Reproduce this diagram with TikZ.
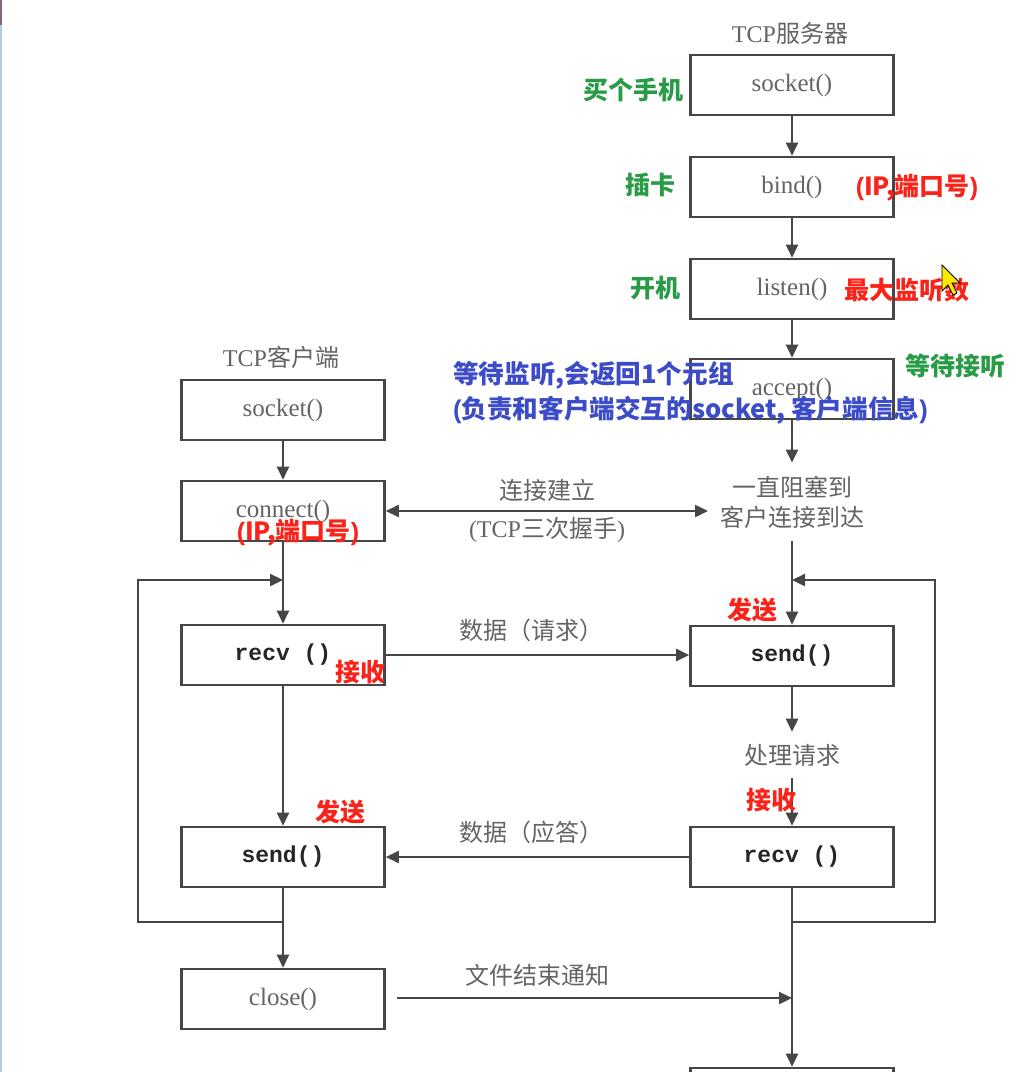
\documentclass[tikz,border=0pt]{standalone}
\usepackage{fontspec}
\setmainfont{Liberation Serif}
\newfontfamily\cjk{Noto Sans CJK SC}
\newfontfamily\cjkb{Noto Sans CJK SC}
\newfontfamily\annlat{Liberation Sans}
\newfontfamily\monob{Liberation Mono}
\newcommand{\lp}{{\annlat\bfseries (}}
\newcommand{\rp}{{\annlat\bfseries )}}
\usetikzlibrary{arrows.meta}
\definecolor{linegray}{RGB}{70,70,70}
\definecolor{txtgray}{RGB}{100,100,100}
\definecolor{annGreen}{RGB}{40,155,70}
\definecolor{annRed}{RGB}{250,35,25}
\definecolor{annBlue}{RGB}{60,75,200}
\definecolor{edgeBlue}{RGB}{175,205,235}
\definecolor{edgePurple}{RGB}{140,100,130}
\tikzset{
  box/.style={draw=linegray, line width=2.6pt, minimum width=203pt, minimum height=60pt, inner sep=0pt, text=txtgray, font=\fontsize{25}{29}\selectfont},
  mbox/.style={box, text=black!85, font=\monob\bfseries\fontsize{23}{27}\selectfont},
  lbl/.style={text=txtgray, font=\cjk\fontsize{24}{30}\selectfont, inner sep=0pt},
  arr/.style={draw=linegray, line width=2.4pt, -{Triangle[length=13pt,width=12pt]}},
  dbl/.style={draw=linegray, line width=2.4pt, {Triangle[length=13pt,width=12pt]}-{Triangle[length=13pt,width=12pt]}},
  ann/.style={font=\cjkb\bfseries\fontsize{25}{30}\selectfont, inner sep=0pt},
  green/.style={ann, text=annGreen},
  red/.style={ann, text=annRed},
  blue/.style={ann, text=annBlue, anchor=west, font=\cjkb\bfseries\fontsize{25.6}{30}\selectfont},
}
\begin{document}
\begin{tikzpicture}[x=1pt,y=-1pt]
\useasboundingbox (0,0) rectangle (1027,1072);
\clip (0,0) rectangle (1027,1072);
\fill[white] (0,0) rectangle (1027,1072);
\fill[edgePurple] (0,0) rectangle (2,25);
\fill[edgeBlue] (0,25) rectangle (2,1072);

% titles
\node[lbl] (tcps) at (790,33) {{\rmfamily TCP}服务器};
\node[lbl] (tcpc) at (281,357) {{\rmfamily TCP}客户端};

% server column
\node[box] (ss) at (792,85) {socket()};
\node[box] (sb) at (792,187) {bind()};
\node[box] (sl) at (792,289) {listen()};
\node[box] (sa) at (792,389) {accept()};
\node[lbl, align=center, inner ysep=13pt, inner xsep=4pt] (block) at (792,502) {一直阻塞到\\客户连接到达};
\node[mbox] (sd) at (792,656) {send()};
\node[lbl, inner ysep=12pt] (proc) at (792,755) {处理请求};
\node[mbox] (sr) at (792,857) {recv ()};
\node[box] (se) at (792,1098) {};

% client column
\node[box] (cs) at (283,410) {socket()};
\node[box] (cc) at (283,511) {connect()};
\node[mbox] (cr) at (283,655) {recv ()};
\node[mbox] (cd) at (283,857) {send()};
\node[box] (cx) at (283,999) {close()};

% server arrows
\draw[arr] (ss) -- (sb);
\draw[arr] (sb) -- (sl);
\draw[arr] (sl) -- (sa);
\draw[arr] (sa) -- (block);
\draw[arr] (block) -- (sd);
\draw[arr] (sd) -- (proc);
\draw[arr] (proc) -- (sr);
\draw[arr] (sr) -- (se);
\coordinate (rb) at (792,922);
\coordinate (rbx) at (935,922);
\coordinate (rtx) at (935,580);
\coordinate (rt) at (792,580);
\draw[arr] (rb) -- (rbx) -- (rtx) -- (rt);

% client arrows
\draw[arr] (cs) -- (cc);
\draw[arr] (cc) -- (cr);
\draw[arr] (cr) -- (cd);
\draw[arr] (cd) -- (cx);
\coordinate (lb) at (283,922);
\coordinate (lbx) at (138,922);
\coordinate (ltx) at (138,580);
\coordinate (lt) at (283,580);
\draw[arr] (lb) -- (lbx) -- (ltx) -- (lt);

% horizontal messages
\coordinate (hsR) at (708,511);
\draw[dbl] (cc.east) -- (hsR);
\draw[arr] (cr.east) -- (cr.east -| sd.west);
\draw[arr] (sr.west) -- (sr.west -| cd.east);
\coordinate (endR) at (792,998);
\draw[arr, shorten <=11pt] (cx.east |- endR) -- (endR);

\node[lbl] (lconn) at (547,490) {连接建立};
\node[lbl] (ltcp) at (547,530) {{\rmfamily (TCP}三次握手{\rmfamily )}};
\node[lbl] (lreq) at (531,630) {数据（请求）};
\node[lbl] (lresp) at (531,832) {数据（应答）};
\node[lbl] (lend) at (537,975) {文件结束通知};

% annotations
\node[green] (a1) at (633,90) {买个手机};
\node[green] (a2) at (650,185) {插卡};
\node[red] (a3) at (917,188) {\lp IP,端口号\rp};
\node[green] (a4) at (655,288) {开机};
\node[red] (a5) at (907,290) {最大监听数};
\node[green] (a6) at (955,366) {等待接听};
\node[blue] (a7) at (453,375) {等待监听,会返回1个元组};
\node[blue] (a8) at (453,410) {\lp 负责和客户端交互的socket, 客户端信息\rp};
\node[red] (a9) at (298,533) {\lp IP,端口号\rp};
\node[red] (a10) at (360,672) {接收};
\node[red] (a11) at (340,812) {发送};
\node[red] (a12) at (752,610) {发送};
\node[red] (a13) at (771,800) {接收};

% mouse pointer
\filldraw[fill=yellow!90!orange, draw=black, line width=0.8pt] (942,265) -- (942,291) -- (948,285) -- (953,295) -- (957,293) -- (952,283) -- (960,283) -- cycle;
\end{tikzpicture}
\end{document}
